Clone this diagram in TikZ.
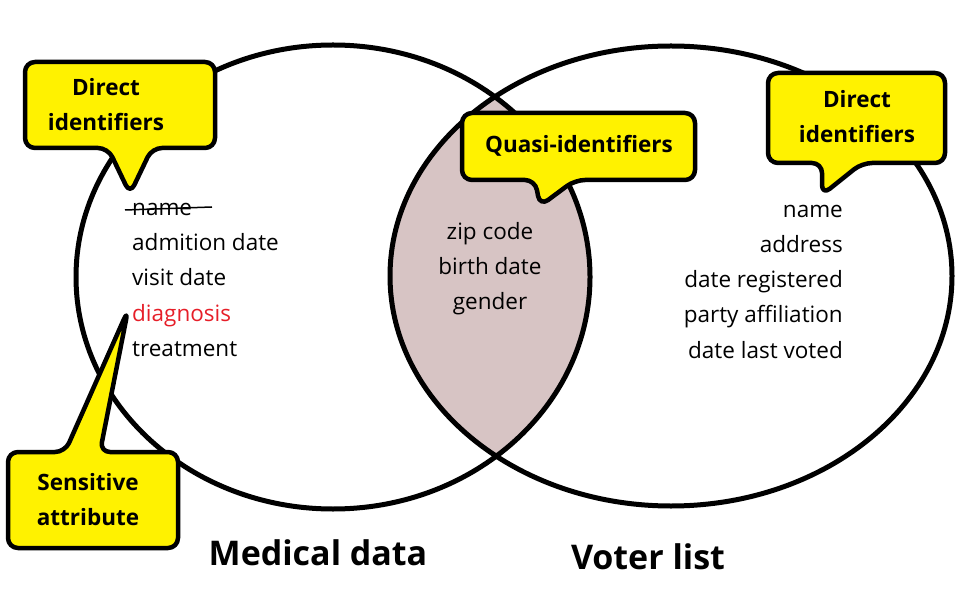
\documentclass[tikz,border=0pt]{standalone}
\usepackage{fontspec}
\setmainfont{Open Sans}
\begin{document}
\begin{tikzpicture}[x=1pt,y=-1pt,
  callout/.style={draw=black,fill=yellow,line width=4.5pt,rounded corners=10pt,line join=round},
  ctext/.style={font=\bfseries\fontsize{22.5}{35}\selectfont,align=center},
  item/.style={font=\fontsize{22.5}{26}\selectfont,inner sep=0pt,anchor=base},
  title/.style={font=\bfseries\fontsize{34}{40}\selectfont}]
\useasboundingbox (0,0) rectangle (979,609);
\begin{scope}
  \clip (333,277) ellipse [x radius=257,y radius=232];
  \fill[fill={rgb,255:red,215;green,196;blue,196}] (671,276) ellipse [x radius=281,y radius=230];
\end{scope}
\draw[line width=5pt] (333,277) ellipse [x radius=257,y radius=232];
\draw[line width=5pt] (671,276) ellipse [x radius=281,y radius=230];
% callouts
\draw[callout] (25,62) -- (215,62) -- (215,148) -- (152,148) -- (130,194) -- (108,148) -- (25,148) -- cycle;
\node[ctext] (d1) at (106,105) {Direct\\identifiers};
\draw[callout] (462,113) -- (695,113) -- (695,180) -- (575,180) -- (540,206) -- (535,180) -- (462,180) -- cycle;
\node[ctext] (q) at (579,146) {Quasi-identifiers};
\draw[callout] (768,73) -- (945,73) -- (945,163) -- (862,163) -- (822,195) -- (822,163) -- (768,163) -- cycle;
\node[ctext] (d2) at (857,117) {Direct\\identifiers};
\draw[callout] (8,452) -- (65,452) -- (128,310) -- (100,452) -- (178,452) -- (178,548) -- (8,548) -- cycle;
\node[ctext] (s) at (88,500) {Sensitive\\attribute};
% left list
\node[item,anchor=base west] (l1) at (132,216) {name};
\draw[line width=1.5pt] (125,210) -- (212,207);
\node[item,anchor=base west] (l2) at (132,251) {admition date};
\node[item,anchor=base west] (l3) at (132,286) {visit date};
\node[item,anchor=base west,text={rgb,255:red,230;green,30;blue,40}] (l4) at (132,321) {diagnosis};
\node[item,anchor=base west] (l5) at (132,356) {treatment};
% middle
\node[item] (m1) at (490,240) {zip code};
\node[item] (m2) at (490,275) {birth date};
\node[item] (m3) at (490,310) {gender};
% right
\node[item,anchor=base east] (r1) at (843,218) {name};
\node[item,anchor=base east] (r2) at (843,253) {address};
\node[item,anchor=base east] (r3) at (843,288) {date registered};
\node[item,anchor=base east] (r4) at (843,323) {party affiliation};
\node[item,anchor=base east] (r5) at (843,358) {date last voted};
\node[title] (t1) at (318,553) {Medical data};
\node[title] (t2) at (648,557) {Voter list};
\end{tikzpicture}
\end{document}
